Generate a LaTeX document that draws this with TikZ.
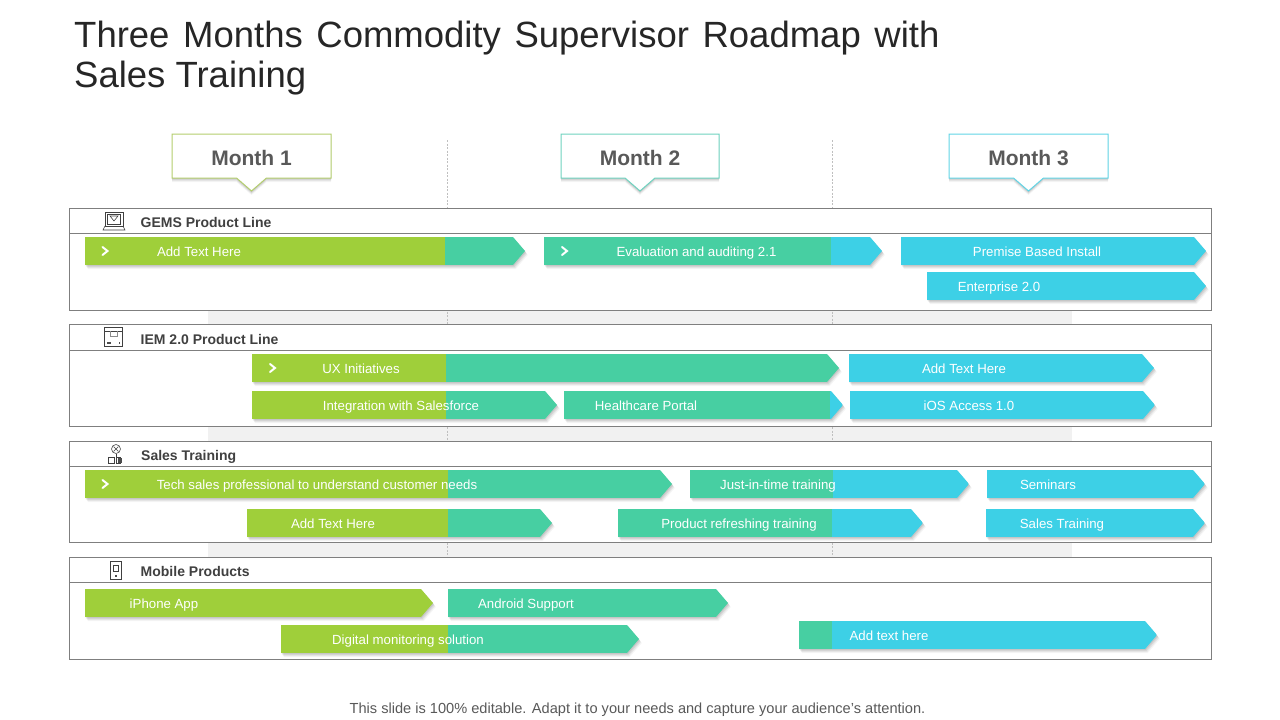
\documentclass[tikz,border=0pt]{standalone}
\usepackage{fontspec}
\setmainfont{Liberation Sans}
\definecolor{cgreen}{HTML}{9FCF3A}
\definecolor{cteal}{HTML}{47CFA2}
\definecolor{ccyan}{HTML}{3DD0E6}
\definecolor{cband}{HTML}{F1F1F1}
\definecolor{cframe}{HTML}{7F7F7F}
\definecolor{cdark}{HTML}{404040}
\definecolor{cmonth}{HTML}{595959}
\definecolor{bordA}{HTML}{B4CE6E}
\definecolor{bordB}{HTML}{6FD3C0}
\definecolor{bordC}{HTML}{62D5E6}
\tikzset{
  paneframe/.style={draw=cframe,line width=0.9pt,fill=white},
  panetitle/.style={anchor=west,font=\fontsize{14}{16}\selectfont\bfseries,text=cdark,inner sep=0pt,text height=10pt,text depth=0pt},
  bartext/.style={font=\fontsize{13.25}{15}\selectfont,text=white,inner sep=0pt,text height=10pt,text depth=1pt},
  monthtext/.style={font=\fontsize{21}{24}\selectfont\bfseries,text=cmonth,inner sep=0pt,text height=15pt,text depth=0pt},
  guide/.style={draw=black!25,line width=0.5pt,dash pattern=on 2pt off 1.5pt},
  chev/.style={draw=white,line width=2pt,line cap=round,line join=miter},
  icon/.style={draw=black!75,line width=0.55pt},
}
% #1 x0, #2 split1, #3 split2, #4 xend, #5 ytop
\newcommand{\ribbon}[5]{%
  \foreach \dd/\op in {1/0.07,2/0.07,3/0.06,4/0.04}{%
    \fill[black,opacity=\op,shift={(0.7*\dd,\dd)}] (#1,#5) -- ({#4-12},#5) -- (#4,#5+14) -- ({#4-12},#5+28) -- (#1,#5+28) -- cycle;}
  \begin{scope}
    \clip (#1,#5) -- ({#4-12},#5) -- (#4,#5+14) -- ({#4-12},#5+28) -- (#1,#5+28) -- cycle;
    \fill[cgreen] (#1,#5) rectangle (#2,#5+28);
    \fill[cteal] (#2,#5) rectangle (#3,#5+28);
    \fill[ccyan] (#3,#5) rectangle (#4,#5+28);
  \end{scope}}
\newcommand{\chevron}[2]{\draw[chev] (#1-3,#2-4) -- (#1+2,#2) -- (#1-3,#2+4);}
% #1 name #2 left #3 right #4 color
\newcommand{\callout}[4]{%
  \pgfmathsetmacro{\cc}{(#2+#3)/2}%
  \foreach \dd/\op in {1/0.07,2/0.07,3/0.06,4/0.04}{%
    \fill[black,opacity=\op,shift={(0,\dd)}] (#2,134) -- (#3,134) -- (#3,178) -- (\cc+15,178) -- (\cc,191) -- (\cc-15,178) -- (#2,178) -- cycle;}
  \path[draw=#4,line width=1pt,fill=white] (#2,134) -- (#3,134) -- (#3,178) -- (\cc+15,178) -- (\cc,191) -- (\cc-15,178) -- (#2,178) -- cycle;
  \node[monthtext] (#1) at (\cc,157.5) {\csname mname#1\endcsname};}
\expandafter\def\csname mnamemA\endcsname{Month 1}
\expandafter\def\csname mnamemB\endcsname{Month 2}
\expandafter\def\csname mnamemC\endcsname{Month 3}
\begin{document}
\begin{tikzpicture}[x=1pt,y=-1pt]
\useasboundingbox (0,0) rectangle (1280,720);
\fill[white] (0,0) rectangle (1280,720);
% title
\node[anchor=north west,align=left,inner sep=0pt,font=\fontsize{36.5}{40.5}\selectfont,text=black!85] (title) at (74,20.5)
  {\spaceskip=13.6pt\relax Three Months Commodity Supervisor Roadmap with\\Sales Training};
% gray bands
\fill[cband] (208,305) rectangle (1072,557);
% guides
\draw[guide] (447.5,140) -- (447.5,557);
\draw[guide] (832.5,140) -- (832.5,557);
% callouts
\callout{mA}{172}{331}{bordA}
\callout{mB}{561}{719}{bordB}
\callout{mC}{949}{1108}{bordC}
% panels
\draw[paneframe] (69.5,208.5) rectangle (1211.5,310.5);
\draw[paneframe] (69.5,324.5) rectangle (1211.5,426.5);
\draw[paneframe] (69.5,441.5) rectangle (1211.5,542.5);
\draw[paneframe] (69.5,557.5) rectangle (1211.5,659.5);
\draw[cframe,line width=0.9pt] (69.5,233.5) -- (1211.5,233.5);
\draw[cframe,line width=0.9pt] (69.5,350.5) -- (1211.5,350.5);
\draw[cframe,line width=0.9pt] (69.5,466.5) -- (1211.5,466.5);
\draw[cframe,line width=0.9pt] (69.5,582.5) -- (1211.5,582.5);
\node[panetitle] (pA) at (140.5,222) {GEMS Product Line};
\node[panetitle] (pB) at (140.5,339) {IEM 2.0 Product Line};
\node[panetitle] (pC) at (141,455) {Sales Training};
\node[panetitle] (pD) at (140.5,571) {Mobile Products};
% icon: laptop
\draw[icon] (105,212) rectangle (123,226);
\draw[icon] (107.5,214) rectangle (120.5,224);
\draw[icon] (110,216) -- (118,216) -- (114,221) -- cycle;
\draw[icon] (105,226) -- (103,230) -- (125,230) -- (123,226);
% icon: box
\draw[icon] (104.5,327.5) rectangle (122.5,346);
\draw[icon] (104.5,331) -- (122.5,331);
\draw[icon,black!45] (110,331) -- (110,336) -- (117,336) -- (117,331);
\fill[black!70] (106.5,341.5) rectangle (110.5,344);
\fill[black!70] (118.5,341.5) rectangle (120,344);
% icon: sales
\draw[icon] (116,449) circle (4.5);
\draw[icon] (113.5,446.5) -- (118.5,451.5) (118.5,446.5) -- (113.5,451.5);
\draw[icon] (116,453.5) -- (116,457);
\draw[icon] (108,457) rectangle (114,463);
\draw[icon] (116,457) rectangle (120,463.5);
\fill[black!70] (118,457.5) rectangle (122,462.5);
% icon: phone
\draw[icon] (110.5,561.5) rectangle (121,579.5);
\draw[icon] (113,565) rectangle (118.5,571);
\fill[black!70] (115,574.5) rectangle (116.5,577);
% ribbons
\ribbon{85}{445}{1300}{525}{237}
\ribbon{544}{544}{831}{882}{237}
\ribbon{901}{901}{901}{1206}{237}
\ribbon{927}{927}{927}{1206}{272}
\ribbon{252}{446}{1300}{839}{354}
\ribbon{849}{849}{849}{1154}{354}
\ribbon{252}{446}{1300}{557}{391}
\ribbon{564}{564}{830}{843}{391}
\ribbon{850}{850}{850}{1155}{391}
\ribbon{85}{448}{1300}{672}{470}
\ribbon{690}{690}{833}{969}{470}
\ribbon{987}{987}{987}{1205}{470}
\ribbon{247}{448}{1300}{552}{509}
\ribbon{618}{618}{832}{923}{509}
\ribbon{986}{986}{986}{1205}{509}
\ribbon{85}{1300}{1300}{433}{589}
\ribbon{448}{448}{1300}{728}{589}
\ribbon{281}{448}{1300}{639}{625}
\ribbon{799}{799}{832}{1157}{621}
% chevrons
\chevron{105.5}{251}
\chevron{565}{251}
\chevron{273}{368}
\chevron{105.5}{484}
% ribbon texts
\node[bartext] (t1) at (199,251.5) {Add Text Here};
\node[bartext] (t2) at (696.5,251.5) {Evaluation and auditing 2.1};
\node[bartext] (t3) at (1037,251.5) {Premise Based Install};
\node[bartext] (t4) at (999,286.5) {Enterprise 2.0};
\node[bartext] (t5) at (361,368.5) {UX Initiatives};
\node[bartext] (t6) at (964,368.5) {Add Text Here};
\node[bartext] (t7) at (401,405.5) {Integration with Salesforce};
\node[bartext] (t8) at (646,405.5) {Healthcare Portal};
\node[bartext] (t9) at (969,405.5) {iOS Access 1.0};
\node[bartext] (t10) at (317,484.5) {Tech sales professional to understand customer needs};
\node[bartext] (t11) at (778,484.5) {Just-in-time training};
\node[bartext] (t12) at (1048,484.5) {Seminars};
\node[bartext] (t13) at (333,523.5) {Add Text Here};
\node[bartext] (t14) at (739,523.5) {Product refreshing training};
\node[bartext] (t15) at (1062,523.5) {Sales Training};
\node[bartext] (t16) at (164,603.5) {iPhone App};
\node[bartext] (t17) at (526,603.5) {Android Support};
\node[bartext] (t18) at (408,639.5) {Digital monitoring solution};
\node[bartext] (t19) at (889,635.5) {Add text here};
% footer
\node[inner sep=0pt,font=\fontsize{14.6}{17}\selectfont,text=cmonth,text height=11pt,text depth=2pt] (foot) at (637.5,709) {This slide is 100\% editable. Adapt it to your needs and capture your audience's attention.};
\end{tikzpicture}
\end{document}
